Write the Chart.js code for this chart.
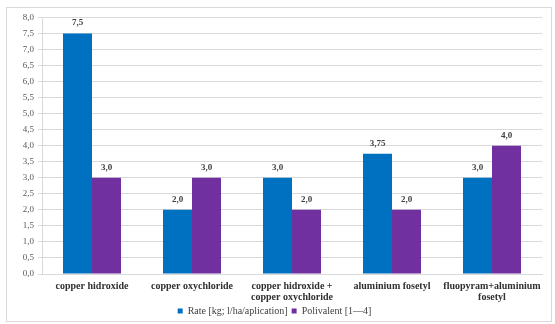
<!DOCTYPE html>
<html>
<head>
<meta charset="utf-8">
<script src="https://cdn.jsdelivr.net/npm/chart.js@4"></script>
<style>
  html, body { margin: 0; padding: 0; background: #fff; }
  #wrap {
    position: absolute; left: 6px; top: 7px;
    width: 546px; height: 315px;
    border: 1px solid #d9d9d9; box-sizing: border-box;
  }
</style>
</head>
<body>
<div id="wrap"><canvas id="chart"></canvas></div>
<script>
const categories = [
  'copper hidroxide',
  'copper oxychloride',
  ['copper hidroxide +', 'copper oxychloride'],
  'aluminium fosetyl',
  ['fluopyram+aluminium', 'fosetyl']
];
const rateValues = [7.5, 2.0, 3.0, 3.75, 3.0];
const polivalentValues = [3.0, 3.0, 2.0, 2.0, 4.0];
const seriesNames = ['Rate [kg; l/ha/aplication]', 'Polivalent [1\u20144]'];

const serif = "'Liberation Serif', 'DejaVu Serif', serif";

function fmt(v) {
  let s = Number.isInteger(v * 10) ? v.toFixed(1) : String(v);
  return s.replace('.', ',');
}

// draw the value above each bar
const valueLabels = {
  id: 'valueLabels',
  afterDatasetsDraw(chart) {
    const ctx = chart.ctx;
    ctx.save();
    ctx.font = 'bold 9px ' + serif;
    ctx.fillStyle = '#404040';
    ctx.textAlign = 'center';
    ctx.textBaseline = 'bottom';
    chart.data.datasets.forEach((ds, i) => {
      chart.getDatasetMeta(i).data.forEach((bar, j) => {
        ctx.fillText(fmt(ds.data[j]), bar.x, bar.y - 6);
      });
    });
    ctx.restore();
  }
};

new Chart(document.getElementById('chart'), {
  type: 'bar',
  data: {
    labels: categories,
    datasets: [{
      label: seriesNames[0],
      data: rateValues,
      backgroundColor: '#0070c0',
      categoryPercentage: 0.58,
      barPercentage: 1.0
    }, {
      label: seriesNames[1],
      data: polivalentValues,
      backgroundColor: '#7030a0',
      categoryPercentage: 0.58,
      barPercentage: 1.0
    }]
  },
  options: {
    responsive: true,
    maintainAspectRatio: false,
    animation: false,
    layout: { padding: { top: 4, right: 9, bottom: -5, left: 0 } },
    plugins: {
      legend: {
        position: 'bottom',
        labels: {
          boxWidth: 5, boxHeight: 5,
          padding: 4,
          color: '#404040',
          font: { family: serif, size: 10 }
        }
      },
      tooltip: { enabled: false }
    },
    scales: {
      x: {
        grid: { display: false, drawTicks: false },
        border: { color: '#d9d9d9' },
        ticks: {
          color: '#303030',
          padding: 7,
          autoSkip: false,
          maxRotation: 0,
          font: { family: serif, size: 10, weight: 'bold', lineHeight: 1.1 }
        },
        afterFit(axis) { axis.height = 28; }
      },
      y: {
        min: 0, max: 8,
        grid: { color: '#d9d9d9', tickLength: 4 },
        border: { color: '#d9d9d9' },
        ticks: {
          stepSize: 0.5,
          color: '#595959',
          padding: 4,
          font: { family: serif, size: 9 },
          callback: v => v.toFixed(1).replace('.', ',')
        },
        afterFit(axis) { axis.width = 35; }
      }
    }
  },
  plugins: [valueLabels]
});
</script>
</body>
</html>
